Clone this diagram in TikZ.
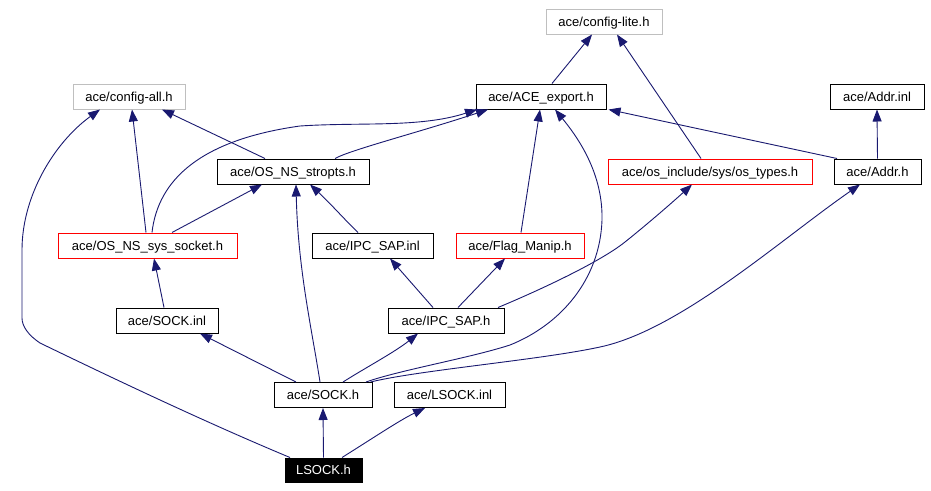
\documentclass[tikz,border=0pt]{standalone}
\usepackage{fontspec}
\setmainfont{Liberation Sans}
\usetikzlibrary{arrows.meta}
\definecolor{edgeblue}{RGB}{25,25,112}
\definecolor{boxgray}{RGB}{191,191,191}
\begin{document}
\begin{tikzpicture}[x=1pt,y=-1pt,
  box/.style={draw=black,line width=1pt,inner sep=0pt,minimum height=25pt,font=\fontsize{13}{15}\selectfont,fill=white,text height=9.6pt,text depth=0.6pt},
  graybox/.style={box,draw=boxgray},
  redbox/.style={box,draw=red},
  blackbox/.style={box,fill=black,text=white,draw=black},
  edge/.style={draw=edgeblue,line width=0.9pt,-{Triangle[length=12pt,width=9pt]},fill=none}]
\useasboundingbox (0,0) rectangle (931,490);
\fill[white] (0,0) rectangle (931,490);
% nodes
\node[graybox,minimum width=116pt] (lite) at (604,21.5) {ace/config-lite.h};
\node[box,minimum width=130pt] (ace) at (541,96.5) {ace/ACE\_export.h};
\node[box,minimum width=94pt] (addrinl) at (877,96.5) {ace/Addr.inl};
\node[graybox,minimum width=112pt] (cfgall) at (129,96.5) {ace/config-all.h};
\node[redbox,minimum width=204pt] (ostypes) at (710,171.5) {ace/os\_include/sys/os\_types.h};
\node[box,minimum width=87pt] (addrh) at (877.5,171.5) {ace/Addr.h};
\node[box,minimum width=152pt] (stropts) at (293,171.5) {ace/OS\_NS\_stropts.h};
\node[redbox,minimum width=179pt] (syssock) at (147.5,245.5) {ace/OS\_NS\_sys\_socket.h};
\node[box,minimum width=121pt] (ipcinl) at (372.5,245.5) {ace/IPC\_SAP.inl};
\node[redbox,minimum width=128pt] (flag) at (520,245.5) {ace/Flag\_Manip.h};
\node[box,minimum width=102pt] (sockinl) at (167,320.5) {ace/SOCK.inl};
\node[box,minimum width=116pt] (ipch) at (446,320.5) {ace/IPC\_SAP.h};
\node[box,minimum width=98pt] (sockh) at (323,395) {ace/SOCK.h};
\node[box,minimum width=111pt] (lsockinl) at (449.5,395) {ace/LSOCK.inl};
\node[blackbox,minimum width=77pt,minimum height=24pt] (lsock) at (323.5,470) {LSOCK.h};
% edges
\draw[edge] (lsock.north) -- (sockh.south);
\draw[edge] ([xshift=18.5pt]lsock.north) .. controls (370,440) and (400,420) .. ([xshift=-24.5pt]lsockinl.south);
\draw[edge] ([xshift=-33.5pt]lsock.north) .. controls (200,420) and (100,372) .. (40,343)
  .. controls (28,335) and (22,326) .. (22,318) -- (22,250)
  .. controls (22,195) and (55,142) .. ([xshift=-29pt]cfgall.south);
\draw[edge] ([xshift=-27pt]sockh.north) -- ([xshift=33pt]sockinl.south);
\draw[edge] ([xshift=-3pt]sockh.north) .. controls (312,330) and (298,270) .. ([xshift=3pt]stropts.south);
\draw[edge] ([xshift=20pt]sockh.north) .. controls (365,368) and (395,352) .. ([xshift=-28pt]ipch.south);
\draw[edge] ([xshift=43pt]sockh.north) .. controls (400,370) and (470,358) .. (510,345)
  .. controls (560,325) and (600,280) .. (602,220)
  .. controls (603,175) and (580,140) .. ([xshift=14pt]ace.south);
\draw[edge] ([xshift=-2pt]sockh.north east) .. controls (420,370) and (540,360) .. (600,347)
  .. controls (680,330) and (780,240) .. ([xshift=-17.5pt]addrh.south);
\draw[edge] ([xshift=-13pt]ipch.north) -- ([xshift=17.5pt]ipcinl.south);
\draw[edge] ([xshift=12pt]ipch.north) -- ([xshift=-15pt]flag.south);
\draw[edge] ([xshift=52pt]ipch.north) .. controls (540,290) and (600,262) .. (625,242)
  .. controls (650,222) and (675,200) .. ([xshift=-18pt]ostypes.south);
\draw[edge] ([xshift=-3pt]sockinl.north) -- ([xshift=6.5pt]syssock.south);
\draw[edge] ([xshift=-1.5pt]syssock.north) -- ([xshift=3pt]cfgall.south);
\draw[edge] ([xshift=24.5pt]syssock.north) -- ([xshift=-31pt]stropts.south);
\draw[edge] ([xshift=4.5pt]syssock.north) .. controls (158,180) and (200,140) .. (300,126)
  .. controls (360,122) and (420,128) .. ([xshift=-64pt]ace.south);
\draw[edge] ([xshift=-28pt]stropts.north) -- ([xshift=33pt]cfgall.south);
\draw[edge] ([xshift=42pt]stropts.north) .. controls (350,150) and (420,132) .. ([xshift=-53pt]ace.south);
\draw[edge] ([xshift=-14.5pt]ipcinl.north) .. controls (345,220) and (330,203) .. ([xshift=17pt]stropts.south);
\draw[edge] ([xshift=1pt]flag.north) -- ([xshift=-1pt]ace.south);
\draw[edge] ([xshift=11pt]ace.north) -- ([xshift=-12pt]lite.south);
\draw[edge] ([xshift=-9pt]ostypes.north) -- ([xshift=13pt]lite.south);
\draw[edge] ([xshift=-40.5pt]addrh.north) -- ([xshift=2pt]ace.south east);
\draw[edge] (addrh.north) -- (addrinl.south);
\end{tikzpicture}
\end{document}
